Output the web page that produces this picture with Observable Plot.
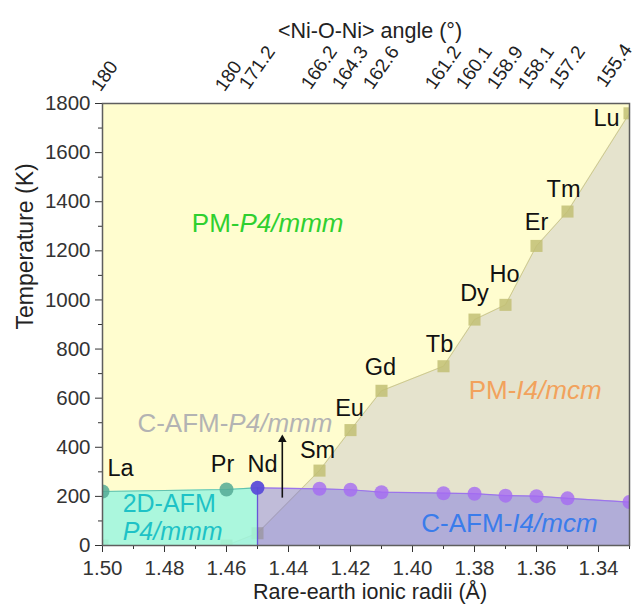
<!DOCTYPE html>
<html><head><meta charset="utf-8">
<script src="https://cdn.jsdelivr.net/npm/d3@7"></script>
<script src="https://cdn.jsdelivr.net/npm/@observablehq/plot@0.6"></script>
<style>html,body{margin:0;padding:0;background:#fff;} svg{display:block}</style>
</head><body><div id="chart"></div>
<script>
// ---- data ----
const elements = ["La","Pr","Nd","Sm","Eu","Gd","Tb","Dy","Ho","Er","Tm","Lu"];
const radii    = [1.50, 1.46, 1.45, 1.43, 1.42, 1.41, 1.39, 1.38, 1.37, 1.36, 1.35, 1.33];
const angles   = ["180","180","171.2","166.2","164.3","162.6","161.2","160.1","158.9","158.1","157.2","155.4"];
const structT  = [0, 0, 50, 305, 470, 630, 730, 920, 980, 1220, 1360, 1760];   // PM-P4/mmm -> PM-I4/mcm
const neelT    = [220, 228, 235, 231, 227, 217, 213, 211, 203, 201, 192, 177];  // AFM ordering
const yTicks   = [0, 200, 400, 600, 800, 1000, 1200, 1400, 1600, 1800];
const yMinor   = [100, 300, 500, 700, 900, 1100, 1300, 1500, 1700];
const xTicks   = [1.50, 1.48, 1.46, 1.44, 1.42, 1.40, 1.38, 1.36, 1.34];
const xMinor   = [1.49, 1.47, 1.45, 1.43, 1.41, 1.39, 1.37, 1.35, 1.33];
const arrowR   = [1.442];
const arrowT   = [195, 432];

const pts = elements.map((el, i) => ({el, r: radii[i], ang: angles[i], ts: structT[i], tn: neelT[i]}));
const cyanPts = pts.slice(0, 3);
const purplePts = pts.slice(2);

// label offsets (px) relative to the data point they annotate
const labelStyle = {
  La: {on: "tn", dx: 18, dy: -23}, Pr: {on: "tn", dx: -4, dy: -25}, Nd: {on: "tn", dx: 5, dy: -23},
  Sm: {on: "ts", dx: -2, dy: -20}, Eu: {on: "ts", dx: -1, dy: -22}, Gd: {on: "ts", dx: -1, dy: -23},
  Tb: {on: "ts", dx: -4, dy: -22}, Dy: {on: "ts", dx: 0, dy: -26}, Ho: {on: "ts", dx: -1, dy: -30},
  Er: {on: "ts", dx: 0, dy: -23}, Tm: {on: "ts", dx: -4, dy: -22}, Lu: {on: "ts", dx: -23, dy: 5}
};
const elementLabels = pts.map(p => {
  const s = labelStyle[p.el];
  return Plot.text([p], {x: "r", y: s.on, text: "el", dx: s.dx, dy: s.dy, fontSize: 23.5, fill: "#111"});
});

function phase(left, right, x, y, color, size = 26) {
  return [
    Plot.text([left], {x: () => x, y: () => y, text: d => d, textAnchor: "end", fill: color, fontSize: size}),
    Plot.text([right], {x: () => x, y: () => y, text: d => d, textAnchor: "start", fill: color, fontSize: size, fontStyle: "italic"})
  ];
}

// top-axis label groups (short labels, long labels, last label near the edge)
const topShort = pts.filter(p => p.ang.length <= 3);
const topLong = pts.filter((p, i) => p.ang.length > 3 && i < pts.length - 1);
const topLast = [pts[pts.length - 1]];
const topOpts = {x: "r", frameAnchor: "top", text: "ang", rotate: -55, textAnchor: "start", lineAnchor: "bottom", fontSize: 19, fill: "#222"};

const font = "'Liberation Sans', Arial, Helvetica, sans-serif";
const chart = Plot.plot({
  width: 638, height: 608,
  marginLeft: 102, marginRight: 9, marginTop: 103, marginBottom: 63,
  style: {fontFamily: font, fontSize: "20.5px", background: "white", color: "#222", overflow: "visible"},
  x: {domain: [1.50, 1.33]},
  y: {domain: [0, 1800]},
  marks: [
    Plot.frame({fill: "#FFFDCF"}),
    Plot.areaY(pts, {x: "r", y: "ts", fill: "#E5E3CD"}),
    Plot.line(pts, {x: "r", y: "ts", stroke: "#CFCB8A", strokeWidth: 1}),
    Plot.dot(pts, {x: "r", y: "ts", symbol: "square", r: 6.8, fill: "#C2BF74", fillOpacity: 0.85, clip: "frame"}),
    Plot.areaY(cyanPts, {x: "r", y: "tn", fill: "#9CF6DF", fillOpacity: 0.85}),
    Plot.line(cyanPts, {x: "r", y: "tn", stroke: "#62C2AE", strokeWidth: 1.2}),
    Plot.areaY(purplePts, {x: "r", y: "tn", fill: "#6A62E6", fillOpacity: 0.42}),
    Plot.line(purplePts, {x: "r", y: "tn", stroke: "#9C74EC", strokeWidth: 1.2}),
    Plot.ruleX([pts[2]], {x: "r", y1: 0, y2: "tn", stroke: "#6655D8", strokeWidth: 1.3}),
    Plot.dot(pts.slice(0, 2), {x: "r", y: "tn", r: 7, fill: "#54AA95", fillOpacity: 0.85, clip: "frame"}),
    Plot.dot(pts.slice(3), {x: "r", y: "tn", r: 7, fill: "#A56AF2", fillOpacity: 0.8, clip: "frame"}),
    Plot.dot([pts[2]], {x: "r", y: "tn", r: 7, fill: "#5B4CD8", fillOpacity: 0.95}),
    // arrow
    Plot.link(arrowR, {x1: d => d, x2: d => d, y1: () => arrowT[0], y2: () => arrowT[1] - 8, stroke: "#111", strokeWidth: 1.6}),
    Plot.dot(arrowR, {x: d => d, y: () => arrowT[1], symbol: "triangle", r: 3.2, fill: "#111"}),
    // phase labels
    ...phase("PM-", "P4/mmm", 1.4558, 1311, "#2FD02F"),
    ...phase("C-AFM-", "P4/mmm", 1.4594, 497, "#B3B3B3"),
    ...phase("PM-", "I4/mcm", 1.3665, 631, "#F2A25C"),
    ...phase("C-AFM-", "I4/mcm", 1.3678, 90, "#3A7CEB"),
    Plot.text(["2D-AFM"], {x: () => 1.4935, y: () => 168, text: d => d, textAnchor: "start", fill: "#1EC2C6", fontSize: 25}),
    Plot.text(["P4/mmm"], {x: () => 1.4935, y: () => 54, text: d => d, textAnchor: "start", fill: "#1EC2C6", fontSize: 25, fontStyle: "italic"}),
    ...elementLabels,
    // axes
    Plot.axisY({ticks: yTicks, tickSize: 7, tickPadding: 5, tickFormat: d3.format("d"), label: null, color: "#333"}),
    Plot.axisY({ticks: yMinor, tickSize: 4, tickFormat: () => "", label: null, color: "#333"}),
    Plot.axisX({ticks: xTicks, tickSize: 7, tickPadding: 8, tickFormat: d3.format(".2f"), label: null, color: "#333"}),
    Plot.axisX({ticks: xMinor, tickSize: 4, tickFormat: () => "", label: null, color: "#333"}),
    // top (angle) tick labels
    Plot.text(topShort, {...topOpts, dx: -2, dy: -11}),
    Plot.text(topLong, {...topOpts, dx: -9, dy: -13}),
    Plot.text(topLast, {...topOpts, dx: -24, dy: -15}),
    Plot.frame({stroke: "#5e5e5e", strokeWidth: 1.5}),
    // titles
    Plot.text(["Temperature (K)"], {frameAnchor: "left", dx: -77, dy: 5, rotate: -90, text: d => d, fontSize: 23, fill: "#222"}),
    Plot.text(["Rare-earth ionic radii (Å)"], {frameAnchor: "bottom", dy: 53, dx: 4, text: d => d, fontSize: 21.5, fill: "#222"}),
    Plot.text(["<Ni-O-Ni> angle (°)"], {frameAnchor: "top", dy: -81, dx: 4, text: d => d, fontSize: 21.5, fill: "#222"})
  ]
});
document.getElementById("chart").appendChild(chart);
</script>
</body></html>
